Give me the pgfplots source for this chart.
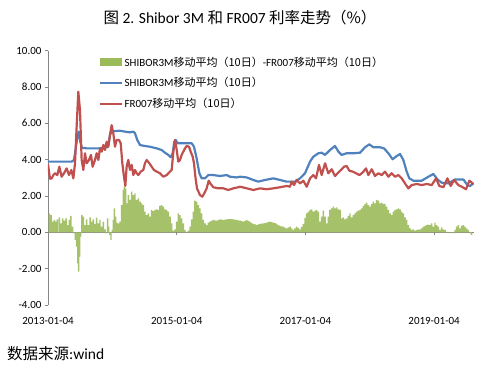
\documentclass[border=0pt]{standalone}
\usepackage{fontspec}
\setmainfont{Carlito}
\newfontfamily\cjk{Noto Sans CJK SC}
\usepackage{pgfplots}
\pgfplotsset{compat=1.18}
\definecolor{xgreen}{HTML}{9BBB59}
\definecolor{xblue}{HTML}{4F81BD}
\definecolor{xred}{HTML}{C0504D}
\definecolor{axgray}{HTML}{868686}
\begin{document}
\begin{tikzpicture}
\useasboundingbox (0,0) rectangle (480bp,368bp);
\node[font=\fontsize{15.5bp}{18bp}\selectfont] at (240bp,350bp) {{\cjk 图} 2. Shibor 3M {\cjk 和} FR007 {\cjk 利率走势（\%）}};
\node[anchor=west, inner sep=0pt, font=\fontsize{15.5bp}{18bp}\selectfont] at (7bp,14bp) {{\cjk 数据来源}:wind};
\begin{axis}[
  at={(48bp,63bp)}, anchor=south west,
  scale only axis, width=426bp, height=254.4bp,
  xmin=0, xmax=6.62, ymin=-4, ymax=10,
  axis y line*=left, axis x line*=bottom,
  x axis line style={draw=none},
  y axis line style={draw=axgray, line width=0.6pt, -},
  ytick={-4,-2,0,2,4,6,8,10},
  yticklabels={-4.00,-2.00,0.00,2.00,4.00,6.00,8.00,10.00},
  xtick={0,2,4,6},
  xticklabels={2013-01-04,2015-01-04,2017-01-04,2019-01-04},
  tick align=outside, major tick length=3bp,
  ytick style={draw=axgray, line width=0.6pt},
  xtick style={draw=none},
  tick label style={font=\fontsize{11bp}{13bp}\selectfont, text=black},
  xticklabel style={yshift=-6bp},
  extra y ticks={0}, extra y tick labels={},
  extra y tick style={grid=major, major grid style={draw=axgray, line width=0.6pt}},
  legend style={at={(0.118,0.985)}, anchor=north west, draw=none, fill=none,
    font=\fontsize{11bp}{13bp}\selectfont, row sep=6bp, inner sep=0pt},
  legend cell align=left,
]
\addplot[ybar, bar width=0.023, fill=xgreen!90!white, draw=none,
  legend image code/.code={\fill[xgreen] (0bp,-4bp) rectangle (22bp,4bp);}]
coordinates {
(0.021,1.04)(0.047,0.95)(0.073,0.59)(0.098,0.68)(0.124,0.59)(0.145,0.71)(0.176,0.82)(0.202,0.49)
(0.228,0.77)(0.254,0.64)(0.280,0.77)(0.306,0.40)(0.332,0.68)(0.357,0.90)(0.383,0.31)(0.404,-0.06)
(0.425,-0.42)(0.445,-0.79)(0.466,-1.71)(0.477,-2.17)(0.492,-1.34)(0.508,-0.24)(0.528,0.95)(0.549,0.86)
(0.575,0.40)(0.601,0.71)(0.627,0.40)(0.653,0.82)(0.679,0.59)(0.704,0.71)(0.730,0.46)(0.756,0.81)
(0.782,0.49)(0.808,0.68)(0.834,0.31)(0.860,0.59)(0.886,0.16)(0.912,-0.06)(0.927,0.77)(0.943,0.31)
(0.963,-0.15)(0.979,-0.42)(1.000,0.13)(1.015,0.68)(1.031,1.32)(1.052,0.86)(1.067,0.53)(1.093,0.49)
(1.119,0.59)(1.145,1.50)(1.171,2.33)(1.186,2.51)(1.207,2.42)(1.222,1.59)(1.248,2.05)(1.274,1.78)
(1.300,2.24)(1.326,2.05)(1.352,2.14)(1.378,1.78)(1.404,1.87)(1.430,1.69)(1.456,1.59)(1.481,1.50)
(1.507,1.14)(1.533,0.95)(1.559,1.04)(1.585,0.86)(1.611,1.23)(1.637,1.17)(1.663,1.23)(1.689,1.26)
(1.715,1.23)(1.740,1.45)(1.766,1.50)(1.792,1.41)(1.818,1.26)(1.844,1.23)(1.870,1.14)(1.896,0.86)
(1.922,0.49)(1.948,0.09)(1.974,0.16)(2.000,0.59)(2.025,1.04)(2.051,0.95)(2.077,0.77)(2.103,0.49)
(2.129,0.13)(2.155,0.03)(2.181,0.09)(2.207,0.31)(2.233,0.71)(2.259,1.14)(2.284,1.74)(2.310,1.69)
(2.336,1.50)(2.362,1.32)(2.388,1.04)(2.414,0.68)(2.440,0.49)(2.466,0.40)(2.492,0.53)(2.517,0.59)
(2.543,0.64)(2.569,0.68)(2.595,0.66)(2.621,0.64)(2.647,0.68)(2.673,0.71)(2.699,0.70)(2.725,0.68)
(2.751,0.70)(2.777,0.71)(2.802,0.72)(2.828,0.73)(2.854,0.72)(2.880,0.71)(2.906,0.70)(2.932,0.68)
(2.958,0.66)(2.984,0.64)(3.009,0.62)(3.035,0.59)(3.061,0.63)(3.087,0.68)(3.113,0.63)(3.139,0.59)
(3.165,0.52)(3.191,0.46)(3.217,0.43)(3.243,0.40)(3.268,0.43)(3.294,0.46)(3.320,0.48)(3.346,0.49)
(3.372,0.51)(3.398,0.53)(3.424,0.56)(3.450,0.59)(3.476,0.56)(3.502,0.53)(3.528,0.50)(3.554,0.46)
(3.580,0.40)(3.605,0.35)(3.631,0.33)(3.657,0.31)(3.683,0.26)(3.709,0.22)(3.735,0.27)(3.761,0.31)
(3.787,0.22)(3.813,0.13)(3.838,0.22)(3.864,0.31)(3.890,0.24)(3.916,0.16)(3.942,0.30)(3.968,0.46)
(3.994,0.80)(4.020,1.04)(4.046,1.14)(4.072,1.23)(4.097,1.26)(4.123,1.14)(4.149,1.19)(4.175,1.23)
(4.201,1.14)(4.227,0.59)(4.253,0.86)(4.279,1.19)(4.305,0.86)(4.330,0.49)(4.356,0.86)(4.382,1.23)
(4.408,1.32)(4.434,1.41)(4.460,1.32)(4.486,1.37)(4.512,1.26)(4.538,1.23)(4.564,0.77)(4.590,0.82)
(4.615,0.71)(4.641,0.77)(4.667,0.90)(4.693,1.04)(4.719,0.82)(4.745,0.95)(4.771,1.04)(4.797,1.14)
(4.823,1.19)(4.849,1.23)(4.875,1.32)(4.900,1.45)(4.926,1.56)(4.952,1.63)(4.978,1.50)(5.004,1.41)
(5.030,1.56)(5.056,1.69)(5.082,1.59)(5.108,1.78)(5.134,1.74)(5.160,1.59)(5.185,1.63)(5.211,1.56)
(5.237,1.56)(5.263,1.41)(5.289,1.23)(5.315,1.04)(5.341,0.95)(5.367,1.14)(5.393,1.23)(5.419,1.26)
(5.445,1.32)(5.471,1.26)(5.497,1.14)(5.522,1.04)(5.548,0.82)(5.574,0.68)(5.600,0.40)(5.626,0.22)
(5.652,0.13)(5.678,0.16)(5.704,0.09)(5.730,0.13)(5.755,0.15)(5.781,0.16)(5.807,0.22)(5.833,0.31)
(5.859,0.36)(5.885,0.40)(5.911,0.42)(5.937,0.40)(5.963,0.49)(5.989,0.31)(6.014,0.53)(6.040,0.40)
(6.066,0.31)(6.092,0.13)(6.118,0.27)(6.144,0.16)(6.170,0.13)(6.196,0.03)(6.222,0.03)(6.247,-0.02)
(6.273,0.02)(6.299,-0.06)(6.325,0.13)(6.351,0.31)(6.377,0.40)(6.403,0.22)(6.429,0.35)(6.455,0.40)
(6.480,0.31)(6.506,0.22)(6.532,0.13)(6.558,-0.06)(6.584,-0.15)
};
\addlegendentry{SHIBOR3M{\cjk 移动平均（10日）}-FR007{\cjk 移动平均（10日）}}
\addplot[xblue, line width=2.2pt, line join=round,
  legend image code/.code={\draw[xblue, line width=2.2pt] (0bp,0bp) -- (22bp,0bp);}]
coordinates {
(0,3.89)(0.368,3.89)(0.404,3.98)(0.435,4.71)(0.461,5.36)(0.477,5.54)(0.497,5.08)(0.523,4.66)
(0.601,4.62)(0.704,4.62)(0.808,4.62)(0.886,4.68)(0.922,4.68)(0.943,4.90)(0.963,5.36)(0.989,5.54)
(1.041,5.57)(1.119,5.59)(1.197,5.54)(1.274,5.50)(1.326,5.54)(1.352,5.45)(1.388,5.08)(1.430,4.80)
(1.507,4.75)(1.585,4.71)(1.689,4.62)(1.766,4.53)(1.818,4.38)(1.870,4.26)(1.906,4.13)(1.937,4.35)
(1.963,4.99)(1.984,5.08)(2.015,4.90)(2.103,4.90)(2.233,4.90)(2.269,4.71)(2.310,4.07)(2.352,3.25)
(2.388,2.97)(2.440,2.97)(2.492,3.15)(2.569,3.15)(2.673,3.10)(2.777,3.15)(2.828,3.06)(2.932,3.02)
(2.984,3.06)(3.087,3.02)(3.191,2.88)(3.268,2.79)(3.372,2.88)(3.502,2.97)(3.605,2.88)(3.709,2.79)
(3.838,2.79)(3.916,2.97)(3.994,3.25)(4.072,3.89)(4.123,4.16)(4.201,4.35)(4.253,4.38)(4.305,4.26)
(4.382,4.53)(4.460,4.75)(4.512,4.44)(4.564,4.26)(4.641,4.35)(4.745,4.35)(4.849,4.38)(4.926,4.68)
(4.993,4.84)(5.056,4.68)(5.160,4.68)(5.222,4.62)(5.289,4.35)(5.356,4.02)(5.419,4.20)(5.471,4.31)
(5.522,3.98)(5.574,3.34)(5.615,2.97)(5.678,2.84)(5.807,2.84)(5.911,3.06)(5.989,3.21)(6.051,2.91)
(6.118,2.73)(6.222,2.69)(6.325,2.91)(6.455,2.91)(6.517,2.60)(6.558,2.55)(6.610,2.69)
};
\addlegendentry{SHIBOR3M{\cjk 移动平均（10日）}}
\addplot[xred, line width=2.2pt, line join=round,
  legend image code/.code={\draw[xred, line width=2.2pt] (0bp,0bp) -- (22bp,0bp);}]
coordinates {
(0,3.75)(0.031,2.95)(0.057,2.97)(0.083,3.15)(0.109,3.25)(0.145,3.15)(0.176,3.61)(0.212,3.06)
(0.249,3.25)(0.290,3.52)(0.326,3.15)(0.363,3.43)(0.394,2.97)(0.420,3.80)(0.445,5.81)(0.471,7.74)
(0.497,6.73)(0.523,3.98)(0.549,3.43)(0.575,4.35)(0.601,3.80)(0.637,3.98)(0.668,4.26)(0.694,3.61)
(0.730,3.98)(0.756,4.35)(0.782,3.98)(0.808,4.62)(0.834,4.44)(0.860,4.81)(0.886,4.53)(0.912,4.99)
(0.938,4.71)(0.963,5.36)(0.989,5.90)(1.015,5.45)(1.041,4.71)(1.067,5.08)(1.104,5.08)(1.130,4.90)
(1.155,3.80)(1.181,3.06)(1.202,2.55)(1.222,3.61)(1.248,3.98)(1.274,3.43)(1.300,3.71)(1.326,3.15)
(1.352,3.43)(1.378,3.25)(1.404,3.15)(1.440,3.34)(1.481,3.43)(1.507,3.80)(1.533,3.98)(1.575,3.80)
(1.611,3.61)(1.647,3.43)(1.689,3.34)(1.740,3.25)(1.792,3.06)(1.844,3.15)(1.896,3.34)(1.922,3.43)
(1.948,4.44)(1.974,5.08)(2.000,4.53)(2.025,3.89)(2.051,3.98)(2.077,4.26)(2.129,4.62)(2.155,4.75)
(2.191,4.71)(2.217,4.44)(2.248,4.17)(2.269,3.80)(2.290,3.06)(2.315,2.42)(2.362,2.05)(2.399,1.96)
(2.429,2.15)(2.466,2.42)(2.497,2.84)(2.528,2.66)(2.569,2.48)(2.647,2.42)(2.725,2.42)(2.802,2.33)
(2.880,2.42)(2.958,2.48)(2.984,2.51)(3.087,2.42)(3.191,2.33)(3.294,2.42)(3.398,2.37)(3.502,2.42)
(3.605,2.48)(3.709,2.55)(3.761,2.51)(3.787,2.79)(3.823,2.60)(3.864,2.88)(3.916,2.69)(3.968,2.84)
(4.020,2.51)(4.072,2.97)(4.123,3.15)(4.165,2.97)(4.211,3.71)(4.253,3.15)(4.305,3.80)(4.356,3.25)
(4.408,3.47)(4.460,3.10)(4.512,3.29)(4.564,3.47)(4.600,3.61)(4.641,3.65)(4.683,3.39)(4.735,3.34)
(4.787,3.25)(4.839,3.15)(4.890,3.29)(4.942,3.52)(4.978,3.15)(5.030,3.47)(5.082,3.10)(5.134,3.25)
(5.185,3.15)(5.237,3.34)(5.289,3.06)(5.341,3.25)(5.393,3.06)(5.445,3.15)(5.497,2.97)(5.548,2.69)
(5.600,2.42)(5.652,2.60)(5.730,2.66)(5.807,2.60)(5.885,2.66)(5.963,2.60)(6.030,2.97)(6.081,2.55)
(6.144,2.48)(6.207,2.97)(6.258,2.55)(6.310,2.88)(6.377,2.60)(6.429,2.51)(6.496,2.37)(6.548,2.84)
(6.610,2.66)
};
\addlegendentry{FR007{\cjk 移动平均（10日）}}
\draw[axgray, line width=0.6pt] (axis cs:2,0) -- ([yshift=-3bp]axis cs:2,0);
\draw[axgray, line width=0.6pt] (axis cs:4,0) -- ([yshift=-3bp]axis cs:4,0);
\draw[axgray, line width=0.6pt] (axis cs:6,0) -- ([yshift=-3bp]axis cs:6,0);
\end{axis}
\end{tikzpicture}
\end{document}
